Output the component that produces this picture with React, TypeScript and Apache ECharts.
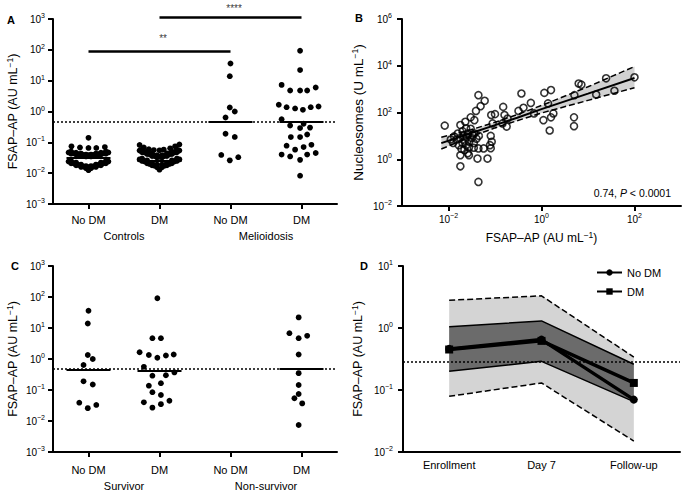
import React, { useEffect, useRef } from 'react';
import * as echarts from 'echarts';

const FONT = '"Liberation Sans", Arial, Helvetica, sans-serif';
const BLACK = '#000';

// ---------- Panel A ----------
const catsA = ['No DM', 'DM', 'No DM', 'DM'];
const groupsA = ['Controls', 'Melioidosis'];
// [horizontal jitter within category, FSAP-AP value]
const ctrlNoDM: [number, number][] = [
  [0, 0.14],
  [-0.24, 0.074], [-0.12, 0.068], [0, 0.066], [0.11, 0.066], [0.23, 0.07],
  [-0.245, 0.05], [-0.175, 0.046], [-0.105, 0.043], [-0.035, 0.04], [0.035, 0.04], [0.105, 0.043], [0.175, 0.046], [0.245, 0.05],
  [-0.28, 0.047], [-0.21, 0.044], [-0.14, 0.041], [-0.07, 0.039], [0, 0.038], [0.07, 0.039], [0.14, 0.041], [0.21, 0.044], [0.28, 0.047],
  [-0.245, 0.043], [-0.175, 0.04], [-0.105, 0.037], [-0.035, 0.035], [0.035, 0.035], [0.105, 0.037], [0.175, 0.04], [0.245, 0.043],
  [-0.245, 0.025], [-0.175, 0.022], [-0.105, 0.019], [-0.035, 0.017], [0.035, 0.017], [0.105, 0.019], [0.175, 0.022], [0.245, 0.025],
  [-0.28, 0.024], [-0.21, 0.021], [-0.14, 0.0185], [-0.07, 0.0165], [0, 0.0155], [0.07, 0.0165], [0.14, 0.0185], [0.21, 0.021], [0.28, 0.024],
  [-0.245, 0.021], [-0.175, 0.018], [-0.105, 0.016], [-0.035, 0.0145], [0.035, 0.0145], [0.105, 0.016], [0.175, 0.018], [0.245, 0.021],
  [0, 0.0125],
];
const ctrlDM: [number, number][] = [
  [-0.28, 0.082], [-0.22, 0.068], [-0.15, 0.06], [-0.08, 0.056], [0, 0.055], [0.06, 0.058], [0.15, 0.064], [0.22, 0.074], [0.28, 0.085],
  [-0.245, 0.058], [-0.175, 0.05], [-0.105, 0.044], [-0.035, 0.038], [0.035, 0.038], [0.105, 0.044], [0.175, 0.05], [0.245, 0.058],
  [-0.28, 0.054], [-0.21, 0.047], [-0.14, 0.041], [-0.07, 0.036], [0, 0.034], [0.07, 0.036], [0.14, 0.041], [0.21, 0.047], [0.28, 0.054],
  [-0.245, 0.048], [-0.175, 0.042], [-0.105, 0.036], [-0.035, 0.032], [0.035, 0.032], [0.105, 0.036], [0.175, 0.042], [0.245, 0.048],
  [-0.245, 0.03], [-0.175, 0.026], [-0.105, 0.022], [-0.035, 0.019], [0.035, 0.019], [0.105, 0.022], [0.175, 0.026], [0.245, 0.03],
  [-0.28, 0.028], [-0.21, 0.024], [-0.14, 0.02], [-0.07, 0.0175], [0.07, 0.0175], [0.14, 0.02], [0.21, 0.024], [0.28, 0.028],
  [-0.245, 0.025], [-0.175, 0.021], [-0.105, 0.018], [-0.035, 0.0155], [0.035, 0.0155], [0.105, 0.018], [0.175, 0.021], [0.245, 0.025],
  [0, 0.013],
];
const meliNoDM: [number, number][] = [
  [0, 36], [-0.01, 14], [-0.01, 1.35], [0.06, 1.0], [-0.07, 0.64], [-0.07, 0.19], [0.06, 0.15], [-0.13, 0.039], [-0.01, 0.026], [0.11, 0.033],
];
const meliDM: [number, number][] = [
  [-0.02, 93], [-0.02, 22], [-0.28, 7.3], [-0.16, 4.8], [-0.02, 4.8], [0.08, 4.8], [0.2, 6],
  [-0.32, 1.66], [-0.21, 1.38], [-0.09, 1.26], [0.02, 1.13], [0.13, 1.38], [0.24, 1.45],
  [-0.28, 0.56], [-0.16, 0.35], [-0.02, 0.29], [0.03, 0.4], [0.12, 0.3],
  [-0.15, 0.148], [-0.02, 0.148], [0.08, 0.18],
  [-0.21, 0.078], [-0.09, 0.058], [0.03, 0.07], [0.14, 0.083],
  [-0.28, 0.04], [-0.16, 0.035], [-0.02, 0.027], [0.08, 0.04], [0.2, 0.045],
  [-0.02, 0.0083],
];
const mediansA = [0.031, 0.026, 0.47, 0.45];
const thresholdAC = 0.48;
const sigFrom = [0, 1];
const sigTo = [2, 3];
const sigLevel = [92, 1160];
const sigText = ['**', '****'];
const sigTextX = [1.05, 2.05];
const sigTextLevel = [240, 2200];

// ---------- Panel B ----------
const bPoints: [number, number][] = [
  [100, 3200], [24.5, 2900], [37, 850], [15, 590], [6.3, 1740], [7.2, 1550], [5.1, 550], [5, 62], [5, 26],
  [1.6, 910], [1.15, 690], [1.38, 245], [1.1, 47], [1.5, 17], [1.6, 62], [1.8, 91],
  [0.37, 650], [0.41, 160], [0.32, 117], [0.59, 257], [0.69, 91],
  [0.15, 174], [0.16, 78], [0.186, 55], [0.178, 25], [0.145, 34],
  [0.089, 34], [0.083, 78], [0.1, 85],
  [0.044, 550], [0.06, 316], [0.049, 186], [0.039, 117], [0.03, 62], [0.023, 40], [0.036, 47], [0.018, 29], [0.0083, 27.5],
  [0.044, 0.107], [0.018, 0.5],
  [0.018, 1.48], [0.0275, 1.48], [0.044, 2.9], [0.057, 2.9], [0.042, 1.07], [0.069, 1.07], [0.078, 4], [0.081, 2.95], [0.085, 5.6], [0.081, 10],
  [0.0275, 3.2], [0.035, 3.1], [0.026, 1.8],
  [0.0132, 9.5], [0.0158, 12.6], [0.0178, 8], [0.02, 5], [0.021, 10], [0.0224, 6.3], [0.024, 4], [0.025, 9], [0.026, 12.6],
  [0.028, 5.6], [0.0316, 8], [0.033, 11], [0.035, 5], [0.0166, 4], [0.019, 2.8], [0.015, 7], [0.022, 2.5], [0.02, 16],
  [0.04, 7.6], [0.045, 10], [0.0126, 5], [0.024, 21], [0.03, 20], [0.036, 12.6], [0.0112, 7],
];
const fitX = [0.007, 0.03, 0.1, 0.3, 1, 10, 100];
const fitY = [4.9, 12.9, 28.8, 60, 140, 640, 3000];
const fitUpper = [8.7, 18.2, 38, 81, 200, 1260, 9300];
const fitLower = [2.75, 9.1, 21.9, 44.7, 95, 330, 1150];
const bTicks = [0.01, 1, 100];
const bYTicks = [0.01, 1, 100, 10000, 1000000];

// ---------- Panel C ----------
const catsC = ['No DM', 'DM', 'No DM', 'DM'];
const groupsC = ['Survivor', 'Non-survivor'];
const survNoDM: [number, number][] = [
  [0, 36], [-0.01, 14], [-0.01, 1.35], [0.06, 1.0], [-0.07, 0.64], [-0.07, 0.19], [0.06, 0.15], [-0.13, 0.039], [-0.01, 0.026], [0.11, 0.033],
];
const survDM: [number, number][] = [
  [-0.03, 91], [-0.1, 4.7], [0.02, 4.7], [-0.28, 1.65], [-0.15, 1.35], [-0.03, 1.1], [0.09, 1.3], [0.2, 1.4],
  [-0.22, 0.56], [-0.1, 0.29], [0.09, 0.3], [0.21, 0.37], [-0.15, 0.138], [0.02, 0.166], [-0.1, 0.085], [0.02, 0.069],
  [-0.22, 0.04], [-0.1, 0.027], [0.02, 0.035], [0.14, 0.045],
];
const nonSurvNoDM: [number, number][] = [];
const nonSurvDM: [number, number][] = [
  [-0.04, 22], [-0.17, 6.8], [-0.04, 4.7], [0.08, 5.6], [-0.04, 1.4], [-0.04, 0.35], [-0.04, 0.145], [-0.04, 0.074], [-0.1, 0.054], [0.01, 0.037], [-0.04, 0.0074],
];
const mediansC: (number | null)[] = [0.45, 0.41, null, 0.5];

// ---------- Panel D ----------
const catsD = ['Enrollment', 'Day 7', 'Follow-up'];
const dOuterUpper = [2.8, 3.3, 0.34];
const dOuterLower = [0.079, 0.13, 0.015];
const dInnerUpper = [1.05, 1.3, 0.26];
const dInnerLower = [0.2, 0.29, 0.065];
const dNoDM = [0.46, 0.65, 0.07];
const dDM = [0.45, 0.62, 0.13];
const thresholdD = 0.29;

// ---------- helpers ----------
const supLabel = (v: number) => {
  const e = Math.round(Math.log10(v));
  return `{b|10}{s|${e < 0 ? '\u2212' + -e : e}}`;
};
const richTick = {
  b: { fontSize: 10, lineHeight: 14, color: BLACK, fontFamily: FONT },
  s: { fontSize: 7, lineHeight: 7, verticalAlign: 'top', color: BLACK, fontFamily: FONT },
};
const nameStyle = (size: number) => ({
  fontSize: size, fontFamily: FONT, color: BLACK, lineHeight: 16,
  rich: { s: { fontSize: 8.5, lineHeight: 8, verticalAlign: 'top', color: BLACK, fontFamily: FONT } },
});
const axisLine = { show: true, onZero: false, lineStyle: { color: BLACK, width: 2 } };
const axisTick = { show: true, length: 5, lineStyle: { color: BLACK, width: 2 } };

const logY = (gridIndex: number, min: number, max: number, name: string, nameGap: number, margin: number, nameSize: number, custom?: number[]) => ({
  type: 'log', logBase: 10, gridIndex, min, max,
  axisLine, axisTick: custom ? { ...axisTick, customValues: custom } : axisTick,
  minorTick: { show: false }, splitLine: { show: false },
  axisLabel: { formatter: supLabel, rich: richTick, margin, ...(custom ? { customValues: custom } : {}) },
  name, nameLocation: 'middle', nameGap, nameRotate: 90, nameTextStyle: nameStyle(nameSize),
});

const toPts = (groups: [number, number][][]) => groups.flatMap((g, i) => g.map(([o, v]) => [i + o, v]));
const medianData = (meds: (number | null)[]) =>
  meds.map((m, i) => (m == null ? null : { coords: [[i - 0.31, m], [i + 0.31, m]] })).filter(Boolean);

const thresholdMark = (v: number) => ({
  silent: true, symbol: ['none', 'none'], label: { show: false },
  lineStyle: { color: BLACK, width: 1.5, type: [2, 2] },
  data: [{ yAxis: v }],
});

const bandSeries = (xAxisIndex: number, yAxisIndex: number, xs: number[], up: number[], lo: number[], fill: string, z: number) => ({
  type: 'custom', xAxisIndex, yAxisIndex, silent: true, z,
  data: [[xs[0], up[0]]],
  renderItem: (_p: any, api: any) => {
    const pts: number[][] = [];
    for (let i = 0; i < xs.length; i++) pts.push(api.coord([xs[i], up[i]]));
    for (let i = xs.length - 1; i >= 0; i--) pts.push(api.coord([xs[i], lo[i]]));
    return { type: 'polygon', shape: { points: pts }, style: { fill, stroke: 'none' } };
  },
});

const plainLine = (xAxisIndex: number, yAxisIndex: number, data: any[], width: number, type: any, z = 3) => ({
  type: 'line', xAxisIndex, yAxisIndex, data, symbol: 'none', silent: true, z,
  lineStyle: { color: BLACK, width, type }, itemStyle: { color: BLACK },
});

function buildOption() {
  const catX = (gridIndex: number, data: string[], margin: number) => ({
    type: 'category', gridIndex, data, position: 'bottom',
    axisLine, axisTick: { ...axisTick, alignWithLabel: true },
    axisLabel: { interval: 0, margin, fontSize: 11, fontFamily: FONT, color: BLACK },
    splitLine: { show: false },
  });
  const groupX = (gridIndex: number, data: string[], margin: number) => ({
    type: 'category', gridIndex, data, position: 'bottom',
    axisLine: { show: false }, axisTick: { show: false }, splitLine: { show: false },
    axisLabel: { interval: 0, margin, fontSize: 11, fontFamily: FONT, color: BLACK },
  });
  const hiddenX = (gridIndex: number) => ({ type: 'value', gridIndex, min: -0.5, max: 3.5, show: false });

  const sigLines = sigFrom.map((f, i) => ({ coords: [[f, sigLevel[i]], [sigTo[i], sigLevel[i]]] }));
  const sigLabels = sigText.map((t, i) => ({ name: t, value: [sigTextX[i], sigTextLevel[i]] }));

  return {
    animation: false,
    backgroundColor: '#fff',
    textStyle: { fontFamily: FONT, color: BLACK },
    grid: [
      { left: 53, top: 19, width: 284, height: 185 },
      { left: 402, top: 19, width: 279, height: 187 },
      { left: 53, top: 266, width: 284, height: 186 },
      { left: 403, top: 266, width: 277, height: 186 },
    ],
    xAxis: [
      catX(0, catsA, 10),
      hiddenX(0),
      groupX(0, groupsA, 26),
      {
        type: 'log', logBase: 10, gridIndex: 1, min: 0.001, max: 1000,
        axisLine, axisTick: { ...axisTick, customValues: bTicks },
        minorTick: { show: false }, splitLine: { show: false },
        axisLabel: { formatter: supLabel, rich: richTick, margin: 6, customValues: bTicks },
        name: 'FSAP\u2013AP (AU mL{s|\u22121})', nameLocation: 'middle', nameGap: 24, nameTextStyle: nameStyle(12),
      },
      catX(2, catsC, 12),
      hiddenX(2),
      groupX(2, groupsC, 28),
      {
        type: 'category', gridIndex: 3, data: catsD, position: 'bottom',
        axisLine, axisTick: { show: false },
        axisLabel: { interval: 0, margin: 7, fontSize: 11, fontFamily: FONT, color: BLACK },
        splitLine: { show: false },
      },
    ],
    yAxis: [
      logY(0, 0.001, 1000, 'FSAP\u2013AP (AU mL{s|\u22121})', 32, 8, 12.5),
      logY(1, 0.01, 1000000, 'Nucleosomes (U mL{s|\u22121})', 36, 10, 13.5, bYTicks),
      logY(2, 0.001, 1000, 'FSAP\u2013AP (AU mL{s|\u22121})', 32, 8, 12.5),
      logY(3, 0.01, 10, 'FSAP\u2013AP (AU mL{s|\u22121})', 37, 10, 12.5),
    ],
    legend: {
      data: ['No DM', 'DM'], orient: 'vertical', left: 591, top: 262,
      itemWidth: 25, itemHeight: 8, itemGap: 8,
      textStyle: { fontSize: 11, fontFamily: FONT, color: BLACK },
    },
    graphic: [
      { type: 'text', left: 7, top: 14, style: { text: 'A', font: `bold 11px ${FONT}`, fill: BLACK } },
      { type: 'text', left: 355, top: 12, style: { text: 'B', font: `bold 11px ${FONT}`, fill: BLACK } },
      { type: 'text', left: 11, top: 260, style: { text: 'C', font: `bold 11px ${FONT}`, fill: BLACK } },
      { type: 'text', left: 360, top: 260, style: { text: 'D', font: `bold 11px ${FONT}`, fill: BLACK } },
      {
        type: 'text', right: 11, top: 187,
        style: {
          text: '0.74, {i|P} < 0.0001', fontSize: 10.5, fontFamily: FONT, fill: BLACK,
          rich: { i: { fontStyle: 'italic', fontSize: 10.5, fontFamily: FONT, fill: BLACK } },
        },
      },
    ],
    series: [
      // ---- A ----
      {
        type: 'scatter', xAxisIndex: 1, yAxisIndex: 0, z: 3, silent: true,
        data: toPts([ctrlNoDM, ctrlDM, meliNoDM, meliDM]),
        symbolSize: 5.8, itemStyle: { color: BLACK, opacity: 1 },
        markLine: thresholdMark(thresholdAC),
      },
      {
        type: 'lines', coordinateSystem: 'cartesian2d', xAxisIndex: 1, yAxisIndex: 0, z: 4, silent: true,
        data: medianData(mediansA), lineStyle: { color: BLACK, width: 2, opacity: 1 },
      },
      {
        type: 'lines', coordinateSystem: 'cartesian2d', xAxisIndex: 1, yAxisIndex: 0, z: 4, silent: true, clip: false,
        data: sigLines, lineStyle: { color: BLACK, width: 2.5, opacity: 1 },
      },
      {
        type: 'scatter', xAxisIndex: 1, yAxisIndex: 0, z: 4, silent: true, clip: false,
        data: sigLabels, symbolSize: 1, itemStyle: { color: 'rgba(0,0,0,0)' },
        label: { show: true, position: 'inside', formatter: (p: any) => p.name, fontSize: 10, fontFamily: FONT, color: BLACK },
      },
      // ---- B ----
      bandSeries(3, 1, fitX, fitUpper, fitLower, '#d2d2d2', 1),
      plainLine(3, 1, fitX.map((x, i) => [x, fitUpper[i]]), 1.5, [6, 3], 2),
      plainLine(3, 1, fitX.map((x, i) => [x, fitLower[i]]), 1.5, [6, 3], 2),
      plainLine(3, 1, fitX.map((x, i) => [x, fitY[i]]), 2, 'solid', 2),
      {
        type: 'scatter', xAxisIndex: 3, yAxisIndex: 1, z: 3, silent: true,
        data: bPoints, symbolSize: 7,
        itemStyle: { color: 'rgba(255,255,255,0)', borderColor: BLACK, borderWidth: 1.6 },
      },
      // ---- C ----
      {
        type: 'scatter', xAxisIndex: 5, yAxisIndex: 2, z: 3, silent: true,
        data: toPts([survNoDM, survDM, nonSurvNoDM, nonSurvDM]),
        symbolSize: 5.8, itemStyle: { color: BLACK, opacity: 1 },
        markLine: thresholdMark(thresholdAC),
      },
      {
        type: 'lines', coordinateSystem: 'cartesian2d', xAxisIndex: 5, yAxisIndex: 2, z: 4, silent: true,
        data: medianData(mediansC), lineStyle: { color: BLACK, width: 2, opacity: 1 },
      },
      // ---- D ----
      bandSeries(7, 3, [0, 1, 2], dOuterUpper, dOuterLower, '#d4d4d4', 1),
      bandSeries(7, 3, [0, 1, 2], dInnerUpper, dInnerLower, '#6b6b6b', 1),
      plainLine(7, 3, dOuterUpper, 1.5, [6, 3], 2),
      plainLine(7, 3, dOuterLower, 1.5, [6, 3], 2),
      plainLine(7, 3, dInnerUpper, 1.5, 'solid', 2),
      plainLine(7, 3, dInnerLower, 1.5, 'solid', 2),
      {
        name: 'No DM', type: 'line', xAxisIndex: 7, yAxisIndex: 3, z: 4, silent: true,
        data: dNoDM, symbol: 'circle', symbolSize: 8, showAllSymbol: true,
        lineStyle: { color: BLACK, width: 3.5 }, itemStyle: { color: BLACK },
        markLine: thresholdMark(thresholdD),
      },
      {
        name: 'DM', type: 'line', xAxisIndex: 7, yAxisIndex: 3, z: 4, silent: true,
        data: dDM, symbol: 'rect', symbolSize: 8, showAllSymbol: true,
        lineStyle: { color: BLACK, width: 3.5 }, itemStyle: { color: BLACK },
      },
    ],
  };
}

export default function App() {
  const ref = useRef<HTMLDivElement>(null);
  useEffect(() => {
    document.body.style.margin = '0';
    const chart = echarts.init(ref.current as HTMLDivElement, null, { renderer: 'svg' });
    chart.setOption(buildOption() as any);
    return () => chart.dispose();
  }, []);
  return (
    <div
      ref={ref}
      style={{ width: 682, height: 492, position: 'absolute', left: 0, top: 0, background: '#fff' }}
    />
  );
}
